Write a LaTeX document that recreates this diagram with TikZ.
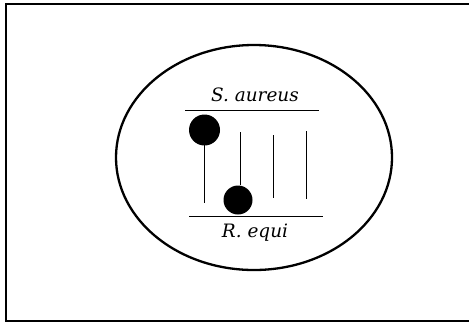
\documentclass[tikz,border=0pt]{standalone}
\usepackage{fontspec}
\usetikzlibrary{shapes.geometric}
\newfontfamily\labelfont{DejaVu Serif}
\begin{document}
\begin{tikzpicture}[x=1bp,y=-1bp,
  frame/.style={draw=black,line width=1.7bp},
  oval/.style={draw=black,line width=2.3bp},
  stem/.style={draw=black,line width=1bp},
  rule/.style={draw=black,line width=1bp},
  ball/.style={circle,fill=black,inner sep=0pt},
  lbl/.style={font=\labelfont\itshape\fontsize{18.5}{20}\selectfont,inner sep=0pt}]
\useasboundingbox (0,0) rectangle (469,323);
\draw[frame] (6,4) rectangle (475,321);
\node[oval,ellipse,minimum width=276bp,minimum height=225bp,inner sep=0pt] (cell) at (254,157.5) {};
% labels
\node[lbl] (sa) at (255,95) {S. aureus};
\node[lbl] (re) at (255,233) {R. equi};
% rules
\coordinate (t1) at (185,110.5);
\coordinate (t2) at (319,110.5);
\coordinate (b1) at (189,216);
\coordinate (b2) at (323,216);
\draw[rule] (t1) -- (t2);
\draw[rule] (b1) -- (b2);
% balls
\node[ball,minimum size=31bp] (big) at (204.5,130) {};
\node[ball,minimum size=29bp] (small) at (238,200) {};
% stems
\coordinate (s1) at (204.5,203);
\coordinate (s2) at (240,132);
\coordinate (s3a) at (273,135);
\coordinate (s3b) at (273,198);
\coordinate (s4a) at (306,131);
\coordinate (s4b) at (306,199);
\draw[stem] (big.center) -- (s1);
\draw[stem] (s2) -- (s2 |- small.north);
\draw[stem] (s3a) -- (s3b);
\draw[stem] (s4a) -- (s4b);
\end{tikzpicture}
\end{document}
